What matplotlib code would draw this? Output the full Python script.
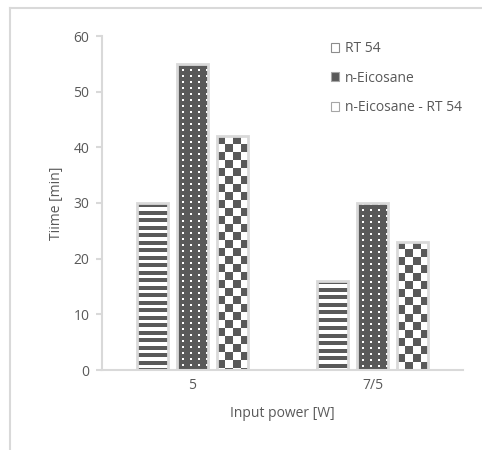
import numpy as np
import matplotlib.pyplot as plt
from matplotlib.colors import ListedColormap
from matplotlib.lines import Line2D
from matplotlib.patches import Patch

categories = ['5', '7/5']
series_names = ['RT 54', 'n-Eicosane', 'n-Eicosane - RT 54']
rt54 = [30, 16]
eicosane = [55, 30]
mixed = [42, 23]
y_ticks = [0, 10, 20, 30, 40, 50, 60]

dark = '#595959'
edge = '#d9d9d9'
text_col = '#595959'

plt.rcParams['font.family'] = ['Open Sans', 'DejaVu Sans']
plt.rcParams['font.size'] = 10
plt.rcParams['hatch.linewidth'] = 1.5

W, H = 482, 450
ax_w, ax_h = 361, 334
fig = plt.figure(figsize=(W / 100, H / 100), dpi=100)
ax = fig.add_axes([102 / W, 1 - 370 / H, ax_w / W, ax_h / H])

xlim = (-0.5, 1.5)
ylim = (0, 60)
px_x = ax_w / (xlim[1] - xlim[0])
px_y = ax_h / (ylim[1] - ylim[0])

pat_cmap = ListedColormap(['white', dark])


def pattern(kind, nr, nc):
    r, c = np.mgrid[0:nr, 0:nc]
    if kind == 'stripes':
        p = (r % 7.5) < 4
    elif kind == 'dots':
        p = ~((r % 6 < 2) & ((c - 5) % 8 < 2))
    else:
        p = ((r // 8 + c // 8) % 2) == 0
    return p.astype(float)


def fill_bars(bars, kind):
    for b in bars:
        x0 = b.get_x()
        w = b.get_width()
        h = b.get_height()
        nc = max(int(round(w * px_x)), 1)
        nr = max(int(round(h * px_y)), 1)
        im = ax.imshow(pattern(kind, nr, nc), cmap=pat_cmap, vmin=0, vmax=1,
                       extent=(x0, x0 + w, 0, h), aspect='auto',
                       interpolation='nearest', zorder=2)
        im.set_clip_path(b)


x = np.arange(len(categories))
step = 40 / px_x
width = 31 / px_x

series = [(rt54, 'stripes'), (eicosane, 'dots'), (mixed, 'checker')]
for i, (vals, kind) in enumerate(series):
    bars = ax.bar(x + (i - 1) * step, vals, width, facecolor='none',
                  edgecolor=edge, linewidth=2, zorder=3)
    fill_bars(bars, kind)

ax.set_xlim(*xlim)
ax.set_ylim(*ylim)
ax.set_xticks(x)
ax.set_xticklabels(categories)
ax.set_yticks(y_ticks)

for s in ['top', 'right']:
    ax.spines[s].set_visible(False)
for s in ['left', 'bottom']:
    ax.spines[s].set_color(edge)
    ax.spines[s].set_linewidth(1.5)
ax.tick_params(axis='y', direction='out', length=4, width=1.5, color=edge,
               labelcolor=text_col, pad=5)
ax.tick_params(axis='x', length=0, labelcolor=text_col, pad=6)

ax.set_xlabel('Input power [W]', color=text_col, labelpad=9)
ax.set_ylabel('Tiime [min]', color=text_col, labelpad=7)

handles = [
    Patch(facecolor='white', edgecolor='#8c8c8c', hatch='-', linewidth=0.8),
    Patch(facecolor=dark, edgecolor='#a6a6a6', linewidth=0.8),
    Patch(facecolor='white', edgecolor='#a6a6a6', linewidth=0.8),
]
leg = ax.legend(handles, series_names, loc='upper left',
                bbox_to_anchor=(331 / W, 1 - 41 / H),
                bbox_transform=fig.transFigure, frameon=False,
                handlelength=0.6, handleheight=0.6, handletextpad=0.4,
                labelspacing=1.05, borderaxespad=0, borderpad=0)
for t in leg.get_texts():
    t.set_color(text_col)

# outer chart border
fig.add_artist(Line2D([10 / W, 10 / W], [0, 1 - 8 / H], transform=fig.transFigure,
                      color=edge, linewidth=1.5))
fig.add_artist(Line2D([10 / W, 1], [1 - 8 / H, 1 - 8 / H], transform=fig.transFigure,
                      color=edge, linewidth=1.5))

fig.savefig('out.png', dpi=100)
